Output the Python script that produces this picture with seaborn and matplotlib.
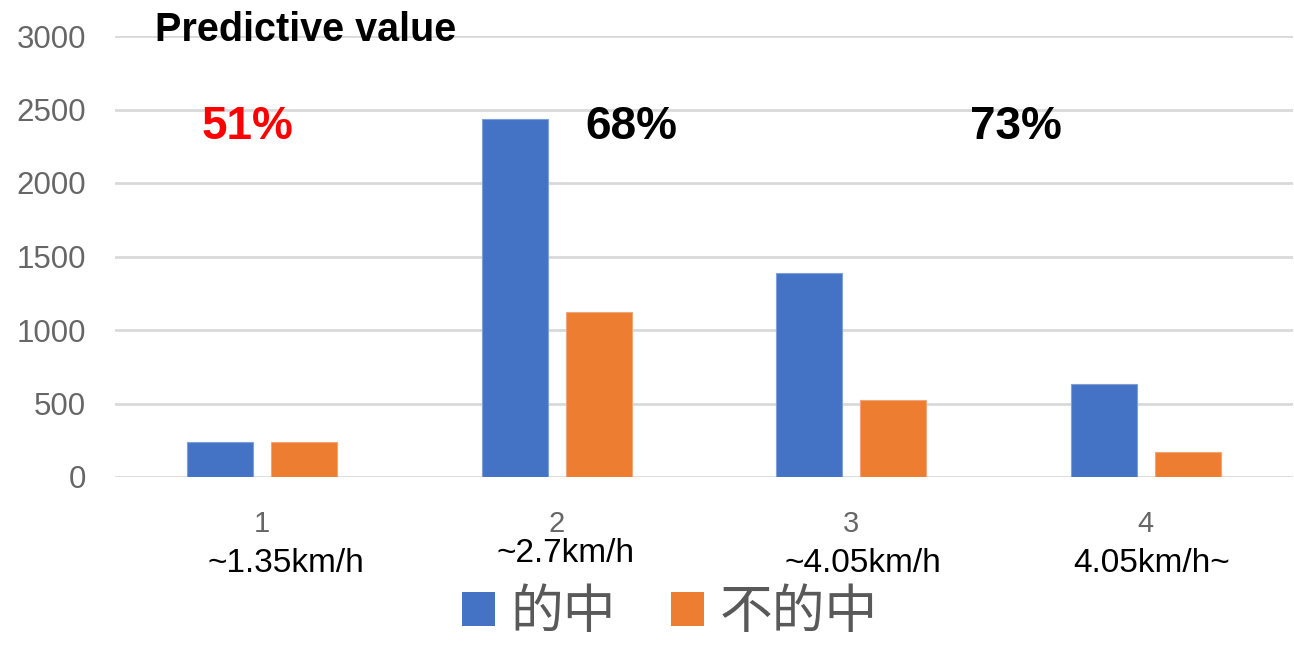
import numpy as np
import matplotlib
matplotlib.use("Agg")
import matplotlib.pyplot as plt
from matplotlib.transforms import blended_transform_factory
import seaborn as sns
import pandas as pd

# values
categories = ["1", "2", "3", "4"]
hit = [240, 2435, 1390, 633]
miss = [240, 1122, 525, 170]
series_names = ["的中", "不的中"]
speed_labels = ["~1.35km/h", "~2.7km/h", "~4.05km/h", "4.05km/h~"]
pct_labels = ["51%", "68%", "73%"]
pct_colors = ["#FF0000", "#000000", "#000000"]
title = "Predictive value"

df = pd.DataFrame({
    "cat": categories * 2,
    "count": hit + miss,
    "series": [series_names[0]] * len(categories) + [series_names[1]] * len(categories),
})

sns.set_theme(style="white")
plt.rcParams['font.family'] = ['Liberation Sans', 'Noto Sans CJK JP', 'DejaVu Sans']

fig = plt.figure(figsize=(12.94, 6.5), dpi=100)
ax = fig.add_axes([115 / 1294, 1 - 477 / 650, 1178 / 1294, 441 / 650])

sns.barplot(data=df, x="cat", y="count", hue="series", ax=ax,
            palette=["#4472C4", "#ED7D31"], width=0.571, gap=0.214,
            saturation=1, legend=False, zorder=3)
for p, ec in zip(ax.patches, ["#7f9fd8"] * 4 + ["#f3a577"] * 4):
    p.set_edgecolor(ec)
    p.set_linewidth(0.8)

ax.set_xlim(-0.5, 3.5)
ax.set_ylim(0, 3000)
ax.set_yticks(np.arange(0, 3001, 500))
ax.grid(axis="y", color="#d9d9d9", linewidth=2, zorder=0)
ax.set_axisbelow(True)
for s in ax.spines.values():
    s.set_visible(False)
ax.set_xlabel("")
ax.set_ylabel("")
ax.tick_params(axis="y", length=0, pad=21, labelsize=22.5, labelcolor="#666666")
ax.tick_params(axis="x", length=0, pad=24, labelsize=21, labelcolor="#666666")

# speed range labels under category numbers
trans = blended_transform_factory(ax.transData, fig.transFigure)
speed_x = [0.08, 1.03, 2.04, 3.02]
speed_y = [563, 553, 563, 563]
for xv, yv, t in zip(speed_x, speed_y, speed_labels):
    ax.text(xv, 1 - yv / 650, t, transform=trans,
            ha="center", va="center", fontsize=24, color="black")

# predictive value percentages
pct_x = [-0.05, 1.255, 2.56]
for xv, t, c in zip(pct_x, pct_labels, pct_colors):
    ax.text(xv, 2380, t, ha="center", va="center", fontsize=33,
            fontweight="bold", color=c)

fig.text(155 / 1294, 1 - 30 / 650, title, ha="left", va="center",
         fontsize=28.5, fontweight="bold", color="black")

handles = [plt.Rectangle((0, 0), 1, 1, facecolor=c, edgecolor="none")
           for c in ["#4472C4", "#ED7D31"]]
fig.legend(handles, series_names, loc="center", ncol=2,
           bbox_to_anchor=(670 / 1294, 1 - 612 / 650), frameon=False,
           prop={"family": ["Noto Sans CJK JP"], "size": 38},
           labelcolor="#595959", handlelength=0.62, handleheight=0.62,
           handletextpad=0.3, columnspacing=1.05)

fig.savefig("out.png", dpi=100)
